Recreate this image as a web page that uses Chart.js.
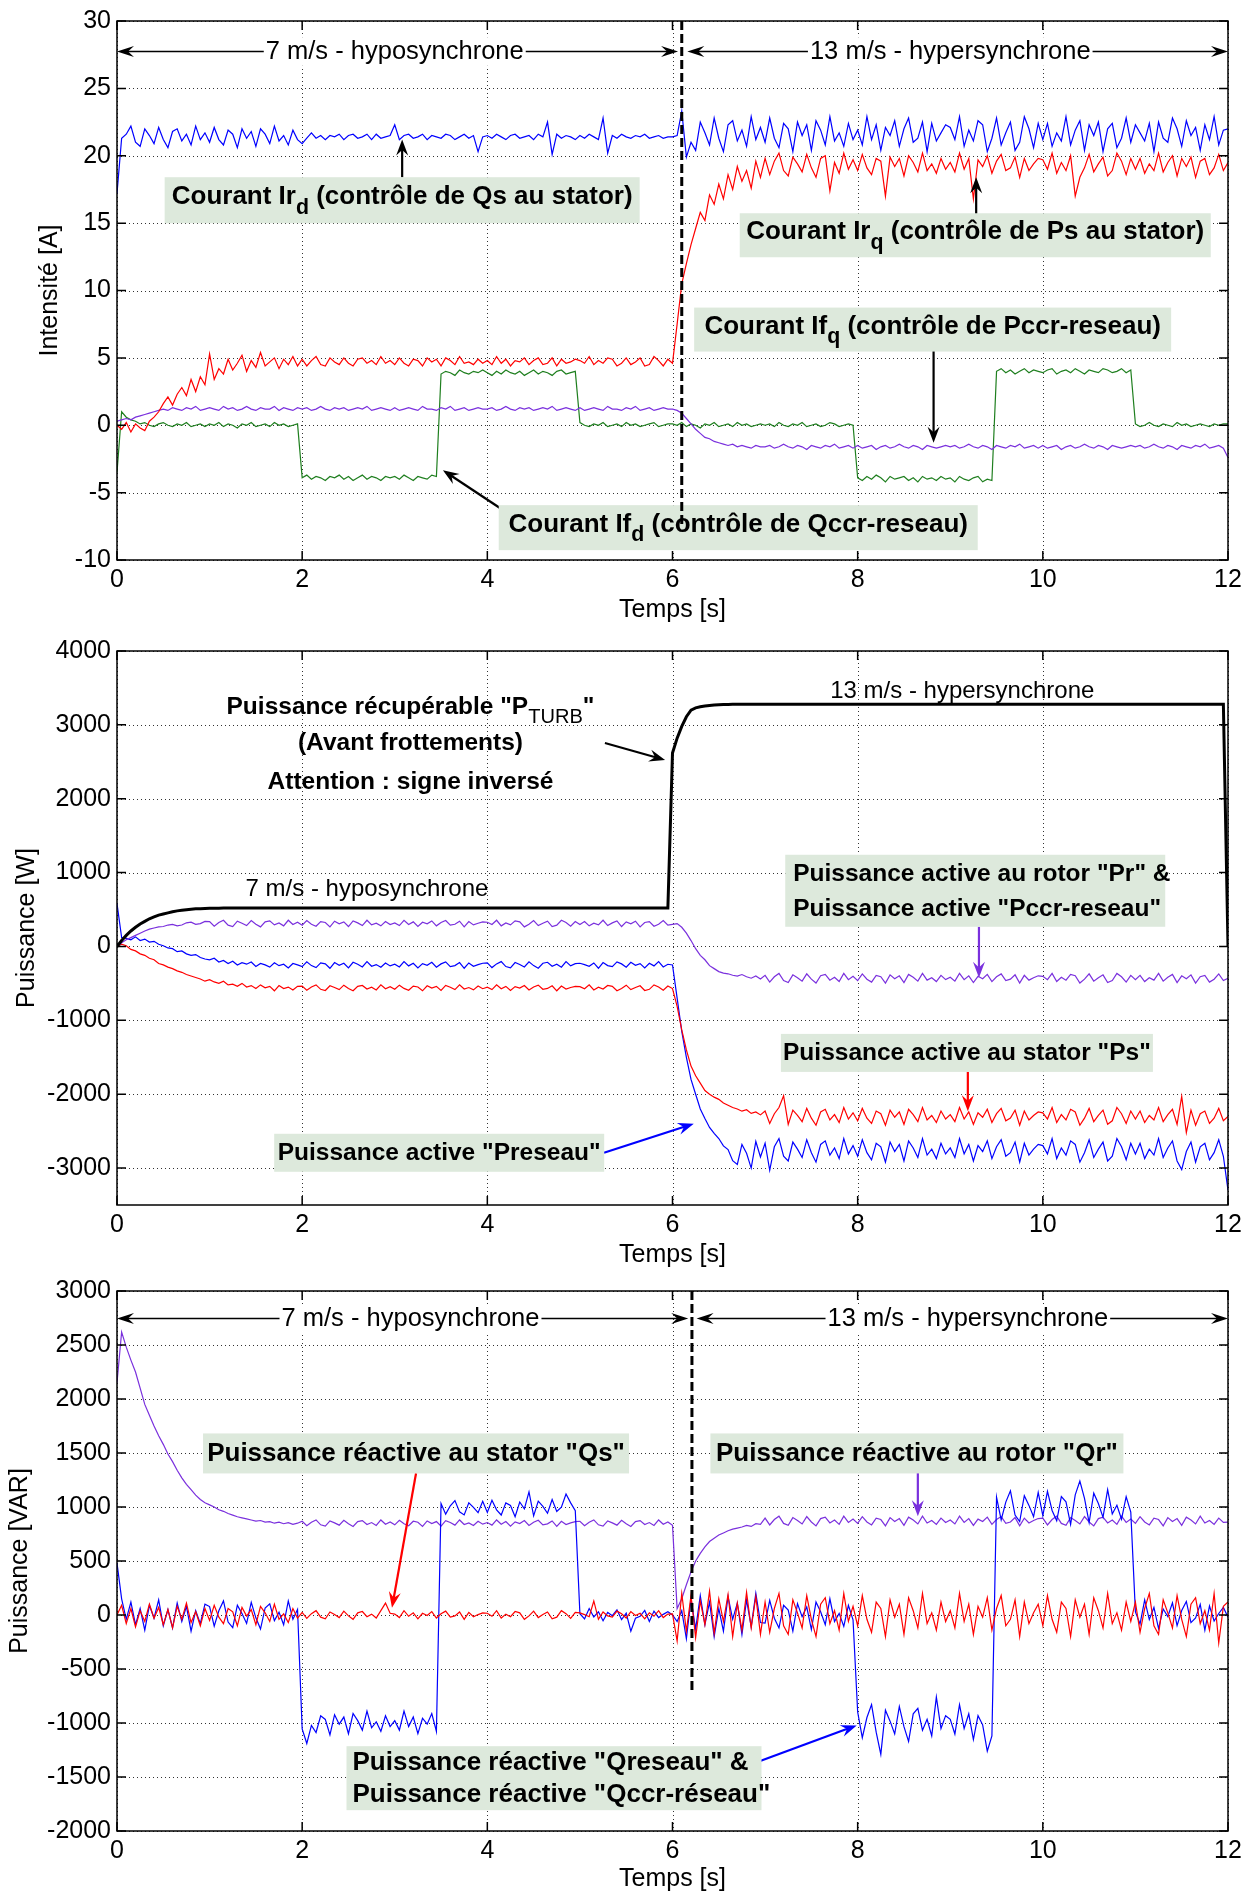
<!DOCTYPE html>
<html>
<head>
<meta charset="utf-8">
<title>MADA - courants et puissances</title>
<script src="https://cdn.jsdelivr.net/npm/chart.js@4.4.1/dist/chart.umd.min.js"></script>
<style>
  html, body { margin: 0; padding: 0; background: #fff; }
  #page { position: relative; width: 1256px; height: 1894px; overflow: hidden; background: #fff; }
  #page canvas { position: absolute; left: 0; }
</style>
</head>
<body>
<div id="page">
  <canvas id="courants" width="1256" height="630" style="top:0px"></canvas>
  <canvas id="puissActive" width="1256" height="640" style="top:630px"></canvas>
  <canvas id="puissReactive" width="1256" height="624" style="top:1270px"></canvas>
</div>
<script>
/* ================= Donnees ================= */

// temps [s], un point tous les 0.05 s (une ligne = une seconde)
const temps = [
  0, 0.05, 0.1, 0.15, 0.2, 0.25, 0.3, 0.35, 0.4, 0.45, 0.5, 0.55, 0.6, 0.65, 0.7, 0.75, 0.8, 0.85, 0.9, 0.95,
  1, 1.05, 1.1, 1.15, 1.2, 1.25, 1.3, 1.35, 1.4, 1.45, 1.5, 1.55, 1.6, 1.65, 1.7, 1.75, 1.8, 1.85, 1.9, 1.95,
  2, 2.05, 2.1, 2.15, 2.2, 2.25, 2.3, 2.35, 2.4, 2.45, 2.5, 2.55, 2.6, 2.65, 2.7, 2.75, 2.8, 2.85, 2.9, 2.95,
  3, 3.05, 3.1, 3.15, 3.2, 3.25, 3.3, 3.35, 3.4, 3.45, 3.5, 3.55, 3.6, 3.65, 3.7, 3.75, 3.8, 3.85, 3.9, 3.95,
  4, 4.05, 4.1, 4.15, 4.2, 4.25, 4.3, 4.35, 4.4, 4.45, 4.5, 4.55, 4.6, 4.65, 4.7, 4.75, 4.8, 4.85, 4.9, 4.95,
  5, 5.05, 5.1, 5.15, 5.2, 5.25, 5.3, 5.35, 5.4, 5.45, 5.5, 5.55, 5.6, 5.65, 5.7, 5.75, 5.8, 5.85, 5.9, 5.95,
  6, 6.05, 6.1, 6.15, 6.2, 6.25, 6.3, 6.35, 6.4, 6.45, 6.5, 6.55, 6.6, 6.65, 6.7, 6.75, 6.8, 6.85, 6.9, 6.95,
  7, 7.05, 7.1, 7.15, 7.2, 7.25, 7.3, 7.35, 7.4, 7.45, 7.5, 7.55, 7.6, 7.65, 7.7, 7.75, 7.8, 7.85, 7.9, 7.95,
  8, 8.05, 8.1, 8.15, 8.2, 8.25, 8.3, 8.35, 8.4, 8.45, 8.5, 8.55, 8.6, 8.65, 8.7, 8.75, 8.8, 8.85, 8.9, 8.95,
  9, 9.05, 9.1, 9.15, 9.2, 9.25, 9.3, 9.35, 9.4, 9.45, 9.5, 9.55, 9.6, 9.65, 9.7, 9.75, 9.8, 9.85, 9.9, 9.95,
  10, 10.05, 10.1, 10.15, 10.2, 10.25, 10.3, 10.35, 10.4, 10.45, 10.5, 10.55, 10.6, 10.65, 10.7, 10.75, 10.8, 10.85, 10.9, 10.95,
  11, 11.05, 11.1, 11.15, 11.2, 11.25, 11.3, 11.35, 11.4, 11.45, 11.5, 11.55, 11.6, 11.65, 11.7, 11.75, 11.8, 11.85, 11.9, 11.95,
  12
];
const ticksTemps = [0, 2, 4, 6, 8, 10, 12];

// --- courants [A]
const ticksCourant = [-10, -5, 0, 5, 10, 15, 20, 25, 30];

const irD = [
  17.2, 21.3, 21.6, 22.2, 21.0, 20.7, 22.0, 21.5, 20.9, 22.1, 21.2, 20.6, 21.8, 22.0, 21.1, 21.6, 20.8, 22.2, 21.2, 21.7,
  21.0, 22.1, 21.2, 20.8, 21.9, 21.6, 20.6, 22.0, 21.3, 21.8, 20.7, 22.0, 21.6, 20.9, 22.2, 21.1, 21.5, 20.8, 21.9, 21.2,
  20.9, 21.3, 21.7, 21.3, 21.5, 21.2, 21.5, 21.4, 21.6, 21.2, 21.5, 21.6, 21.3, 21.4, 21.6, 21.2, 21.6, 21.3, 21.4, 21.5,
  22.3, 21.2, 21.5, 21.6, 21.3, 21.4, 21.6, 21.2, 21.5, 21.4, 21.3, 21.6, 21.5, 21.2, 21.4, 21.6, 21.3, 21.5, 20.3, 21.4,
  21.5, 21.3, 21.6, 21.4, 21.2, 21.5, 21.6, 21.3, 21.4, 21.5, 21.2, 21.6, 21.4, 22.5, 20.1, 21.6, 21.3, 21.5, 21.4, 21.2,
  21.5, 21.3, 21.6, 21.4, 21.2, 22.8, 20.2, 21.5, 21.3, 21.6, 21.4, 21.3, 21.5, 21.4, 21.6, 21.3, 21.4, 21.5, 21.3, 21.4,
  21.4, 21.5, 23.3, 19.9, 21.0, 20.4, 22.5, 21.7, 20.8, 22.8, 21.3, 20.3, 22.3, 22.6, 21.1, 21.9, 20.7, 22.9, 21.2, 22.1,
  21.0, 22.8, 21.3, 20.6, 22.4, 22.0, 20.3, 22.5, 21.5, 22.3, 20.4, 22.6, 21.9, 20.8, 22.9, 21.1, 21.7, 20.7, 22.4, 21.2,
  21.9, 20.8, 22.9, 21.2, 22.3, 20.4, 22.1, 21.5, 22.6, 20.7, 22.0, 22.8, 21.0, 21.3, 22.5, 20.3, 22.4, 21.1, 21.7, 22.3,
  22.1, 21.2, 22.9, 20.7, 21.9, 21.1, 22.6, 22.3, 20.3, 21.3, 22.8, 20.8, 21.7, 22.5, 20.4, 21.0, 22.9, 22.0, 20.6, 22.4,
  21.2, 22.4, 20.7, 21.7, 21.1, 22.9, 20.8, 21.9, 22.6, 20.4, 22.3, 21.5, 22.5, 20.3, 22.0, 22.4, 20.6, 21.3, 22.8, 21.0,
  22.3, 21.7, 21.1, 22.4, 20.3, 22.5, 21.3, 21.0, 22.8, 22.0, 20.7, 22.6, 21.5, 22.1, 20.4, 22.3, 21.2, 22.9, 20.8, 21.9,
  22.0
];
const irQ = [
  0.0, -0.3, 0.2, -0.5, 0.1, -0.2, -0.4, 0.3, 0.6, 1.0, 1.6, 2.1, 1.5, 2.3, 2.8, 2.2, 3.4, 2.5, 3.6, 3.0,
  5.3, 3.4, 4.2, 3.8, 4.9, 4.1, 4.6, 5.2, 4.0, 4.8, 4.3, 5.4, 4.4, 4.7, 5.0, 4.2, 4.9, 4.5, 5.1, 4.4,
  4.9, 4.4, 4.8, 5.1, 4.5, 4.4, 5.0, 4.7, 4.5, 5.0, 4.6, 4.4, 4.9, 5.0, 4.6, 4.8, 4.5, 5.1, 4.6, 4.8,
  4.5, 5.0, 4.6, 4.4, 4.9, 4.8, 4.4, 5.0, 4.7, 4.9, 4.4, 5.0, 4.8, 4.5, 5.1, 4.6, 4.7, 4.5, 4.9, 4.6,
  4.8, 4.5, 5.1, 4.6, 4.9, 4.4, 4.8, 4.7, 5.0, 4.5, 4.8, 5.0, 4.5, 4.6, 5.0, 4.4, 4.9, 4.6, 4.7, 4.9,
  4.8, 4.6, 5.1, 4.5, 4.8, 4.6, 5.0, 4.9, 4.4, 4.6, 5.0, 4.5, 4.7, 5.0, 4.4, 4.5, 5.1, 4.8, 4.4, 4.9,
  4.6, 7.5, 10.5, 12.0, 13.4, 14.6, 15.8, 15.2, 17.1, 16.4, 17.9, 16.8, 18.6, 17.5, 19.2, 18.1, 18.9, 17.6, 19.6, 18.4,
  19.8, 18.6, 19.6, 20.2, 18.9, 18.5, 19.9, 19.4, 18.8, 20.1, 19.1, 18.4, 19.8, 20.0, 17.4, 19.5, 18.7, 20.2, 19.0, 19.7,
  18.9, 20.1, 19.1, 18.6, 19.8, 19.6, 17.0, 19.9, 19.2, 19.8, 18.5, 20.0, 19.5, 18.8, 20.2, 18.9, 19.4, 18.7, 19.8, 19.0,
  19.5, 18.8, 20.2, 19.0, 19.8, 16.8, 19.7, 19.2, 20.0, 18.7, 19.6, 20.1, 18.9, 19.1, 19.9, 18.4, 19.8, 18.9, 19.4, 19.8,
  19.7, 19.0, 20.2, 18.7, 19.5, 18.9, 20.0, 17.0, 18.4, 19.1, 20.1, 18.8, 19.4, 19.9, 18.5, 18.9, 20.2, 19.6, 18.6, 19.8,
  19.0, 19.8, 18.7, 19.4, 18.9, 20.2, 18.8, 19.5, 20.0, 18.5, 19.8, 19.2, 19.9, 18.4, 19.6, 19.8, 18.6, 19.1, 20.1, 18.9,
  19.5
];
const ifQ = [
  0.3, 0.4, 0.5, 0.4, 0.6, 0.7, 0.8, 0.9, 1.0, 1.1, 1.2, 1.1, 1.3, 1.2, 1.1, 1.3, 1.2, 1.4, 1.1, 1.2,
  1.3, 1.2, 1.1, 1.4, 1.2, 1.3, 1.1, 1.2, 1.4, 1.2, 1.1, 1.3, 1.2, 1.2, 1.4, 1.1, 1.3, 1.2, 1.1, 1.3,
  1.2, 1.3, 1.1, 1.2, 1.4, 1.2, 1.1, 1.3, 1.2, 1.3, 1.1, 1.2, 1.3, 1.2, 1.4, 1.1, 1.2, 1.3, 1.2, 1.1,
  1.3, 1.1, 1.2, 1.3, 1.2, 1.1, 1.4, 1.2, 1.2, 1.1, 1.3, 1.2, 1.4, 1.1, 1.2, 1.3, 1.1, 1.2, 1.3, 1.2,
  1.2, 1.3, 1.1, 1.2, 1.4, 1.2, 1.1, 1.3, 1.2, 1.3, 1.1, 1.2, 1.3, 1.2, 1.4, 1.1, 1.2, 1.3, 1.2, 1.1,
  1.3, 1.1, 1.2, 1.3, 1.2, 1.1, 1.4, 1.2, 1.2, 1.1, 1.3, 1.2, 1.4, 1.1, 1.2, 1.3, 1.1, 1.2, 1.3, 1.2,
  1.2, 1.1, 0.9, 0.5, 0.1, -0.3, -0.6, -0.9, -1.0, -1.2, -1.3, -1.4, -1.5, -1.4, -1.6, -1.5, -1.6, -1.7, -1.5, -1.6,
  -1.6, -1.5, -1.7, -1.6, -1.4, -1.6, -1.7, -1.5, -1.6, -1.8, -1.5, -1.6, -1.7, -1.5, -1.6, -1.4, -1.7, -1.6, -1.5, -1.7,
  -1.5, -1.7, -1.6, -1.5, -1.8, -1.6, -1.5, -1.7, -1.6, -1.4, -1.6, -1.7, -1.5, -1.6, -1.8, -1.5, -1.6, -1.7, -1.6, -1.5,
  -1.6, -1.5, -1.7, -1.6, -1.4, -1.6, -1.7, -1.5, -1.6, -1.8, -1.5, -1.6, -1.7, -1.5, -1.6, -1.4, -1.7, -1.6, -1.5, -1.7,
  -1.5, -1.7, -1.6, -1.5, -1.8, -1.6, -1.5, -1.7, -1.6, -1.4, -1.6, -1.7, -1.5, -1.6, -1.8, -1.5, -1.6, -1.7, -1.6, -1.5,
  -1.6, -1.5, -1.7, -1.6, -1.4, -1.6, -1.7, -1.5, -1.6, -1.8, -1.5, -1.6, -1.7, -1.5, -1.6, -1.4, -1.7, -1.6, -1.5, -1.7,
  -2.4
];
const ifD = [
  -3.5, 1.0, 0.6, 0.4, 0.3, 0.1, 0.2, 0.0, -0.1, 0.1, 0.2, 0.0, -0.1, 0.1, 0.0, 0.2, -0.1, 0.0, 0.1, -0.1,
  0.1, 0.0, 0.2, -0.1, 0.1, 0.0, -0.2, 0.1, 0.0, 0.2, -0.1, 0.0, 0.1, -0.1, 0.2, 0.0, 0.1, -0.1, 0.0, 0.1,
  -3.9, -3.7, -4.0, -3.8, -3.9, -4.1, -3.8, -3.9, -3.7, -4.0, -3.8, -4.1, -3.9, -3.7, -4.0, -3.8, -3.9, -4.1, -3.8, -3.9,
  -3.8, -4.0, -3.7, -3.9, -4.1, -3.8, -3.9, -4.0, -3.7, -3.8, 3.8, 4.0, 3.9, 3.7, 4.1, 3.9, 3.8, 4.0, 3.9, 4.1,
  3.9, 3.7, 4.0, 3.8, 4.1, 3.9, 3.8, 4.0, 3.7, 3.9, 4.1, 3.8, 4.0, 3.9, 3.7, 4.0, 4.1, 3.8, 3.9, 4.0,
  0.2, 0.0, -0.1, 0.1, 0.0, 0.2, -0.1, 0.0, 0.1, -0.1, 0.2, 0.0, 0.1, -0.1, 0.0, 0.1, 0.2, -0.1, 0.0, 0.1,
  0.1, 0.0, 0.2, -0.1, 0.1, 0.0, -0.2, 0.1, 0.0, 0.2, -0.1, 0.0, 0.1, -0.1, 0.2, 0.0, 0.1, -0.1, 0.0, 0.1,
  0.0, 0.1, -0.1, 0.2, 0.0, -0.1, 0.1, 0.0, 0.2, -0.1, 0.0, 0.1, -0.1, 0.0, 0.2, 0.1, -0.1, 0.0, 0.1, 0.0,
  -3.9, -4.1, -3.8, -4.0, -3.7, -3.9, -4.2, -3.8, -4.0, -3.9, -3.8, -4.1, -3.9, -4.2, -3.8, -4.0, -3.9, -4.1, -3.8, -4.0,
  -3.9, -4.2, -3.8, -4.0, -4.1, -3.9, -3.8, -4.2, -4.0, -4.1, 4.0, 4.2, 3.9, 4.1, 3.8, 4.0, 4.2, 3.9, 4.1, 4.0,
  3.9, 4.1, 4.2, 3.8, 4.0, 4.1, 3.9, 4.2, 4.0, 3.8, 4.1, 4.0, 3.9, 4.2, 4.1, 3.9, 4.0, 4.2, 3.9, 4.1,
  0.1, -0.1, 0.0, 0.2, 0.0, -0.1, 0.1, 0.0, -0.1, 0.2, 0.0, 0.1, -0.1, 0.0, 0.1, 0.0, -0.1, 0.1, 0.0, 0.1,
  0.1
];

// --- puissances actives [W]
const ticksPuissW = [-3000, -2000, -1000, 0, 1000, 2000, 3000, 4000];

const pTurb = [
  0, 80, 150, 210, 260, 305, 340, 375, 400, 425, 440, 455, 470, 482, 490, 498, 505, 510, 512, 515,
  517, 518, 519, 520, 520, 520, 520, 520, 520, 520, 520, 520, 520, 520, 520, 520, 520, 520, 520, 520,
  520, 520, 520, 520, 520, 520, 520, 520, 520, 520, 520, 520, 520, 520, 520, 520, 520, 520, 520, 520,
  520, 520, 520, 520, 520, 520, 520, 520, 520, 520, 520, 520, 520, 520, 520, 520, 520, 520, 520, 520,
  520, 520, 520, 520, 520, 520, 520, 520, 520, 520, 520, 520, 520, 520, 520, 520, 520, 520, 520, 520,
  520, 520, 520, 520, 520, 520, 520, 520, 520, 520, 520, 520, 520, 520, 520, 520, 520, 520, 520, 520,
  2620, 2820, 2980, 3110, 3200, 3230, 3245, 3255, 3262, 3268, 3272, 3275, 3277, 3278, 3279, 3280, 3280, 3280, 3280, 3280,
  3280, 3280, 3280, 3280, 3280, 3280, 3280, 3280, 3280, 3280, 3280, 3280, 3280, 3280, 3280, 3280, 3280, 3280, 3280, 3280,
  3280, 3280, 3280, 3280, 3280, 3280, 3280, 3280, 3280, 3280, 3280, 3280, 3280, 3280, 3280, 3280, 3280, 3280, 3280, 3280,
  3280, 3280, 3280, 3280, 3280, 3280, 3280, 3280, 3280, 3280, 3280, 3280, 3280, 3280, 3280, 3280, 3280, 3280, 3280, 3280,
  3280, 3280, 3280, 3280, 3280, 3280, 3280, 3280, 3280, 3280, 3280, 3280, 3280, 3280, 3280, 3280, 3280, 3280, 3280, 3280,
  3280, 3280, 3280, 3280, 3280, 3280, 3280, 3280, 3280, 3280, 3280, 3280, 3280, 3280, 3280, 3280, 3280, 3280, 3280, 3280,
  0
];
const pRotor = [
  0, 50, 90, 120, 150, 180, 210, 235, 250, 265, 270, 290, 300, 280, 290, 320, 330, 300, 310, 340,
  337, 274, 324, 355, 288, 270, 342, 315, 283, 351, 301, 265, 333, 346, 292, 319, 279, 355, 297, 328,
  288, 351, 301, 274, 337, 324, 265, 342, 306, 333, 270, 346, 319, 283, 355, 292, 315, 279, 337, 297,
  319, 283, 355, 297, 333, 270, 328, 306, 346, 279, 324, 351, 288, 301, 342, 265, 337, 292, 315, 333,
  328, 297, 355, 279, 319, 292, 346, 333, 265, 301, 351, 283, 315, 342, 270, 288, 355, 324, 274, 337,
  297, 337, 279, 315, 292, 355, 283, 319, 346, 270, 333, 306, 342, 265, 324, 337, 274, 301, 351, 288,
  300, 310, 260, 180, 80, -30, -120, -180, -260, -300, -340, -360, -370, -390, -400, -380, -410, -430, -400, -440,
  -391, -482, -410, -365, -462, -488, -384, -423, -469, -371, -443, -495, -397, -378, -456, -417, -475, -365, -449, -404,
  -462, -371, -443, -482, -391, -410, -495, -384, -436, -397, -488, -378, -417, -469, -365, -456, -423, -475, -391, -449,
  -417, -469, -365, -449, -397, -488, -404, -436, -378, -475, -410, -371, -462, -443, -384, -495, -391, -456, -423, -397,
  -404, -449, -365, -475, -417, -456, -378, -397, -495, -443, -371, -469, -423, -384, -488, -462, -365, -410, -482, -391,
  -449, -391, -475, -423, -456, -365, -469, -417, -378, -488, -397, -436, -384, -495, -410, -391, -482, -443, -371, -462,
  -430
];
const pStator = [
  0, 30, 10, -40, -60, -100, -120, -160, -180, -230, -250, -280, -300, -330, -350, -380, -400, -420, -440, -470,
  -450, -480, -500, -470, -520, -510, -540, -500, -550, -530, -570, -520, -560, -540, -600, -530, -570, -550, -590, -540,
  -536, -592, -548, -520, -580, -596, -532, -556, -584, -524, -568, -600, -540, -528, -576, -552, -588, -520, -572, -544,
  -580, -524, -568, -592, -536, -548, -600, -532, -564, -540, -596, -528, -552, -584, -520, -576, -556, -588, -536, -572,
  -552, -584, -520, -572, -540, -596, -544, -564, -528, -588, -548, -524, -580, -568, -532, -600, -536, -576, -556, -540,
  -544, -572, -520, -588, -552, -576, -528, -540, -600, -568, -524, -584, -556, -532, -596, -580, -520, -548, -592, -536,
  -570, -810, -1130, -1400, -1620, -1750, -1850, -1950, -2000, -2040, -2070, -2120, -2150, -2180, -2200, -2230, -2210, -2260, -2240, -2280,
  -2228, -2396, -2264, -2180, -2020, -2408, -2216, -2288, -2372, -2192, -2324, -2420, -2240, -2204, -2348, -2276, -2384, -2180, -2336, -2252,
  -2360, -2192, -2324, -2396, -2228, -2264, -2420, -2216, -2312, -2240, -2408, -2204, -2276, -2372, -2180, -2348, -2288, -2384, -2228, -2336,
  -2276, -2372, -2180, -2336, -2240, -2408, -2252, -2312, -2204, -2384, -2264, -2192, -2360, -2324, -2216, -2420, -2228, -2348, -2288, -2240,
  -2252, -2336, -2180, -2384, -2276, -2348, -2204, -2240, -2420, -2324, -2192, -2372, -2288, -2216, -2408, -2360, -2180, -2264, -2396, -2228,
  -2336, -2228, -2384, -2288, -2348, -2180, -2372, -2276, -2204, -2408, -2030, -2520, -2216, -2420, -2264, -2228, -2396, -2324, -2192, -2360,
  -2300
];
const pReseau = [
  580, 120, 110, 90, 130, 80, 100, 60, 70, 30, 10, -20, -30, -70, -60, -100, -120, -110, -150, -170,
  -180, -160, -210, -190, -230, -200, -250, -220, -240, -210, -270, -230, -250, -280, -220, -260, -240, -290, -230, -250,
  -272, -209, -259, -286, -223, -236, -295, -218, -254, -227, -290, -214, -241, -277, -205, -268, -245, -281, -223, -263,
  -241, -277, -205, -263, -227, -290, -232, -254, -214, -281, -236, -209, -272, -259, -218, -295, -223, -268, -245, -227,
  -223, -286, -236, -205, -272, -290, -218, -245, -277, -209, -259, -295, -227, -214, -268, -241, -281, -205, -263, -232,
  -227, -245, -268, -223, -295, -218, -259, -272, -209, -236, -281, -214, -254, -232, -290, -227, -263, -205, -277, -241,
  -250, -700, -1150, -1500, -1800, -2000, -2200, -2330, -2450, -2530, -2600, -2700, -2750, -2900, -2950, -2680, -2800, -3000, -2640, -2850,
  -2664, -3030, -2712, -2600, -2840, -2904, -2648, -2744, -2856, -2616, -2792, -2920, -2680, -2632, -2824, -2728, -2872, -2600, -2808, -2696,
  -2840, -2616, -2792, -2888, -2664, -2712, -2920, -2648, -2776, -2680, -2904, -2632, -2728, -2856, -2600, -2824, -2744, -2872, -2664, -2808,
  -2728, -2856, -2600, -2808, -2680, -2904, -2696, -2776, -2632, -2872, -2712, -2616, -2840, -2792, -2648, -2920, -2664, -2824, -2744, -2680,
  -2696, -2808, -2600, -2872, -2728, -2824, -2632, -2680, -2920, -2792, -2616, -2856, -2744, -2648, -2904, -2840, -2600, -2712, -2888, -2664,
  -2808, -2664, -2872, -2744, -2824, -2600, -2856, -2728, -2632, -2904, -3020, -2776, -2648, -2920, -2712, -2664, -2888, -2792, -2616, -2840,
  -3300
];

// --- puissances reactives [VAR]
const ticksPuissVar = [-2000, -1500, -1000, -500, 0, 500, 1000, 1500, 2000, 2500, 3000];

const qRotor = [
  2150, 2620, 2480, 2360, 2250, 2100, 1950, 1850, 1750, 1660, 1580, 1490, 1420, 1340, 1270, 1210, 1160, 1110, 1070, 1040,
  1020, 1000, 975, 960, 940, 925, 910, 900, 890, 880, 870, 875, 860, 865, 850, 860, 845, 855, 840, 850,
  868, 826, 859, 880, 835, 823, 871, 853, 832, 877, 844, 820, 865, 874, 838, 856, 829, 880, 841, 862,
  835, 877, 844, 826, 868, 859, 820, 871, 847, 865, 823, 874, 856, 832, 880, 838, 853, 829, 868, 841,
  856, 832, 880, 841, 865, 823, 862, 847, 874, 829, 859, 877, 835, 844, 871, 820, 868, 838, 853, 865,
  868, 826, 859, 880, 835, 823, 871, 853, 832, 877, 844, 820, 865, 874, 838, 856, 829, 880, 841, 862,
  830, 60, 150, 280, 400, 500, 570, 630, 680, 710, 740, 760, 780, 795, 805, 815, 830, 820, 845, 840,
  897, 834, 884, 915, 848, 830, 902, 875, 843, 911, 861, 825, 893, 906, 852, 879, 839, 915, 857, 888,
  848, 911, 861, 834, 897, 884, 825, 902, 866, 893, 830, 906, 879, 843, 915, 852, 875, 839, 897, 857,
  879, 843, 915, 857, 893, 830, 888, 866, 906, 839, 884, 911, 848, 861, 902, 825, 897, 852, 875, 893,
  897, 834, 884, 915, 848, 830, 902, 875, 843, 911, 861, 825, 893, 906, 852, 879, 839, 915, 857, 888,
  848, 911, 861, 834, 897, 884, 825, 902, 866, 893, 830, 906, 879, 843, 915, 852, 875, 839, 897, 857,
  860
];
const qReseau = [
  480, 150, -40, 120, -90, 60, -140, 90, -30, 140, -100, 50, -120, 110, -60, 80, -150, 40, -80, 100,
  78, -104, 39, 130, -65, -117, 91, 13, -78, 117, -26, -130, 65, 104, -52, 26, -91, 130, -39, 52,
  -1055, -1190, -1022, -1088, -934, -967, -1110, -923, -1011, -945, -1099, -912, -978, -1066, -890, -1044, -989, -1077, -934, -1033,
  -978, -1066, -890, -1033, -945, -1099, -956, -1011, -912, -1077, 1032, 934, 1011, 1060, 955, 927, 1039, 997, 948, 1053,
  950, 1062, 974, 926, 1038, 1014, 910, 1046, 982, 1140, 918, 1054, 1006, 942, 1070, 958, 998, 1120, 1038, 966,
  12, -36, 60, -18, 30, -54, 24, -6, 48, -42, 18, -150, -30, -12, 42, -60, 36, -24, 6, 30,
  0, -60, 40, -220, 150, -130, 180, -90, 120, -200, 60, -150, 170, -40, 110, -180, 140, -110, 200, -70,
  -75, 135, -30, -120, 90, 45, -150, 105, -15, 75, -135, 120, 30, -90, 150, -60, 15, -105, 90, -45,
  -898, -1136, -949, -830, -1085, -1290, -881, -983, -1102, -847, -1034, -1170, -915, -864, -1068, -966, -1119, -760, -1051, -932,
  -966, -1102, -830, -1051, -915, -1153, -932, -1017, -1260, -1119, 1090, 880, 1045, 1150, 925, 865, 1105, 1015, 910, 1135,
  920, 1144, 968, 872, 1096, 1048, 840, 1112, 1240, 1080, 856, 1128, 1032, 904, 1160, 936, 1016, 888, 1096, 952,
  28, -84, 140, -42, 70, -126, 56, -14, 112, -98, 42, 126, -70, -28, 98, -140, 84, -56, 14, 70,
  -20
];
const qStator = [
  0, 90, -80, 60, -110, 40, -60, 100, -30, 70, -90, 50, -120, 80, -40, 110, -70, 30, -100, 60,
  -50, 90, -20, -80, 60, 30, -100, 70, -10, 50, -90, 80, 20, -60, 100, -40, 10, -70, 60, -30,
  24, -32, 12, 40, -20, -36, 28, 4, -24, 36, -8, -40, 20, 32, -16, 8, -28, 40, 110, 16,
  8, -24, 40, -12, 20, -36, 16, -4, 32, -28, 12, 36, -20, -8, 28, -40, 24, -16, 4, 20,
  16, -12, 40, -28, 8, -16, 32, 20, -40, -8, 36, -24, 4, 28, -36, -20, 40, 12, -32, 24,
  20, 4, -16, 130, -40, 28, -8, -20, 36, 12, -28, 32, -4, 16, -36, 20, -12, 40, -24, 8,
  10, -240, 200, -150, 180, -210, 130, -90, 220, -170, 150, -60, 190, -200, 110, -140, 210, -120, 170, -180,
  120, -160, 60, 200, -100, -180, 140, 20, -120, 180, -40, -200, 100, 160, -80, 40, -140, 200, -60, 80,
  -100, 180, -40, -160, 120, 60, -200, 140, -20, 100, -180, 160, 40, -120, 200, -80, 20, -140, 120, -60,
  40, -120, 200, -60, 100, -180, 80, -20, 160, -140, 60, 180, -100, -40, 140, -200, 120, -80, 20, 100,
  -100, 180, -40, -160, 120, 60, -200, 140, -20, 100, -180, 160, 40, -120, 200, -80, 20, -140, 120, -60,
  120, -160, 60, 200, -100, -180, 140, 20, -120, 180, -40, -200, 100, 160, -80, 40, -140, 200, -260, 80,
  120
];

/* ================= Styles ================= */

const POLICE = '"Liberation Sans", Arial, Helvetica, sans-serif';
const BLEU = "#0000ff";
const ROUGE = "#ff0000";
const VERT = "#1f7f1f";
const VIOLET = "#7a30dd";
const NOIR = "#000000";
const FOND_CADRE = "#dde9dc";

Chart.defaults.font.family = POLICE;
Chart.defaults.color = "#000";

/* ================= Annotations ================= */

const notesCourants = [
  { kind: "plage", t0: 0, t1: 6.06, v: 27.8, tc: 3.0, texte: "7 m/s - hyposynchrone" },
  { kind: "plage", t0: 6.16, t1: 12, v: 27.8, tc: 9.0, texte: "13 m/s - hypersynchrone" },
  { kind: "fleche", de: [3.08, 18.4], a: [3.08, 21.2], couleur: NOIR },
  { kind: "cadre", t: 3.08, v: 16.7, w: 475, h: 46, dy: [-3],
    lignes: [["Courant Ir", { sub: "d" }, " (contrôle de Qs au stator)"]] },
  { kind: "fleche", de: [9.28, 15.6], a: [9.28, 18.4], couleur: NOIR },
  { kind: "cadre", t: 9.27, v: 14.1, w: 471, h: 44, dy: [-3],
    lignes: [["Courant Ir", { sub: "q" }, " (contrôle de Ps au stator)"]] },
  { kind: "fleche", de: [8.82, 5.6], a: [8.82, -1.3], couleur: NOIR },
  { kind: "cadre", t: 8.81, v: 7.1, w: 477, h: 44, dy: [-3],
    lignes: [["Courant If", { sub: "q" }, " (contrôle de Pccr-reseau)"]] },
  { kind: "fleche", de: [4.14, -6.16], a: [3.52, -3.34], couleur: NOIR },
  { kind: "cadre", t: 6.71, v: -7.6, w: 479, h: 45, dy: [-3],
    lignes: [["Courant If", { sub: "d" }, " (contrôle de Qccr-reseau)"]] },
  { kind: "tirets", t: 6.1, v0: 30, v1: -7.4 },
];

const notesActives = [
  { kind: "texte", t: 3.17, v: 3242, gras: true,
    ligne: ['Puissance récupérable "P', { sub: "TURB", gras: false }, '"'] },
  { kind: "texte", t: 3.17, v: 2755, gras: true, ligne: ["(Avant frottements)"] },
  { kind: "texte", t: 3.17, v: 2228, gras: true, ligne: ["Attention : signe inversé"] },
  { kind: "fleche", de: [5.27, 2755], a: [5.92, 2525], couleur: NOIR },
  { kind: "texte", t: 2.7, v: 767, gras: false, ligne: ["7 m/s - hyposynchrone"] },
  { kind: "texte", t: 9.13, v: 3449, gras: false, ligne: ["13 m/s - hypersynchrone"] },
  { kind: "fleche", de: [9.31, 267], a: [9.31, -424], couleur: VIOLET },
  { kind: "cadre", t: 9.27, v: 754, w: 380, h: 72, gauche: 8, dy: [-17, 18],
    lignes: [['Puissance active au rotor "Pr" &'], ['Puissance active "Pccr-reseau"']] },
  { kind: "fleche", de: [9.19, -1697], a: [9.19, -2230], couleur: ROUGE },
  { kind: "cadre", t: 9.18, v: -1441, w: 372, h: 38, lignes: [['Puissance active au stator "Ps"']] },
  { kind: "fleche", de: [5.26, -2793], a: [6.23, -2400], couleur: BLEU },
  { kind: "cadre", t: 3.48, v: -2793, w: 330, h: 38, lignes: [['Puissance active "Preseau"']] },
];

const notesReactives = [
  { kind: "tirets", t: 6.21, v0: 3000, v1: -720 },
  { kind: "plage", t0: 0, t1: 6.17, v: 2750, tc: 3.17, texte: "7 m/s - hyposynchrone" },
  { kind: "plage", t0: 6.26, t1: 12, v: 2750, tc: 9.19, texte: "13 m/s - hypersynchrone" },
  { kind: "fleche", de: [3.23, 1312], a: [2.97, 66], couleur: ROUGE },
  { kind: "cadre", t: 3.23, v: 1496, w: 426, h: 40, lignes: [['Puissance réactive au stator "Qs"']] },
  { kind: "fleche", de: [8.65, 1330], a: [8.65, 915], couleur: VIOLET },
  { kind: "cadre", t: 8.64, v: 1496, w: 413, h: 40, lignes: [['Puissance réactive au rotor "Qr"']] },
  { kind: "fleche", de: [6.91, -1363], a: [7.99, -1022], couleur: BLEU },
  { kind: "cadre", t: 4.72, v: -1511, w: 415, h: 64, gauche: 6, dy: [-15, 17],
    lignes: [['Puissance réactive "Qreseau" &'], ['Puissance réactive "Qccr-réseau"']] },
];

/* ================= Dessin ================= */

function police(taille, gras) {
  return (gras ? "bold " : "") + taille + "px " + POLICE;
}

function pointe(ctx, x, y, ang, L, H, couleur) {
  ctx.save();
  ctx.translate(x, y);
  ctx.rotate(ang);
  ctx.fillStyle = couleur;
  ctx.beginPath();
  ctx.moveTo(0, 0);
  ctx.lineTo(-L, -H);
  ctx.lineTo(-L * 0.65, 0);
  ctx.lineTo(-L, H);
  ctx.closePath();
  ctx.fill();
  ctx.restore();
}

// texte avec indices ; segments = chaines ou { sub }
function largeurRiche(ctx, segs, taille, gras) {
  let w = 0;
  for (const s of segs) {
    if (typeof s === "string") {
      ctx.font = police(taille, gras);
      w += ctx.measureText(s).width;
    } else {
      ctx.font = police(taille * 0.82, s.gras === undefined ? gras : s.gras);
      w += ctx.measureText(s.sub).width;
    }
  }
  return w;
}

function texteRiche(ctx, segs, x, y, taille, gras, centre) {
  let cx = centre ? x - largeurRiche(ctx, segs, taille, gras) / 2 : x;
  ctx.textAlign = "left";
  ctx.textBaseline = "middle";
  ctx.fillStyle = "#000";
  for (const s of segs) {
    if (typeof s === "string") {
      ctx.font = police(taille, gras);
      ctx.fillText(s, cx, y);
      cx += ctx.measureText(s).width;
    } else {
      ctx.font = police(taille * 0.82, s.gras === undefined ? gras : s.gras);
      ctx.fillText(s.sub, cx, y + taille * 0.42);
      cx += ctx.measureText(s.sub).width;
    }
  }
}

function dessineNotes(chart, notes, taille) {
  const ctx = chart.ctx;
  const X = (t) => chart.scales.x.getPixelForValue(t);
  const Y = (v) => chart.scales.y.getPixelForValue(v);
  ctx.save();
  for (const n of notes) {
    if (n.kind === "tirets") {
      ctx.save();
      ctx.strokeStyle = NOIR;
      ctx.lineWidth = 3;
      ctx.setLineDash([9, 4]);
      ctx.beginPath();
      ctx.moveTo(X(n.t), Y(n.v0));
      ctx.lineTo(X(n.t), Y(n.v1));
      ctx.stroke();
      ctx.restore();
    } else if (n.kind === "plage") {
      const y = Math.round(Y(n.v)) + 0.5;
      const x0 = X(n.t0), x1 = X(n.t1);
      ctx.setLineDash([]);
      ctx.strokeStyle = NOIR;
      ctx.lineWidth = 1.3;
      ctx.beginPath();
      ctx.moveTo(x0 + 8, y);
      ctx.lineTo(x1 - 8, y);
      ctx.stroke();
      pointe(ctx, x0, y, Math.PI, 17, 5.5, NOIR);
      pointe(ctx, x1, y, 0, 17, 5.5, NOIR);
      ctx.font = police(taille - 0.5, false);
      const w = ctx.measureText(n.texte).width;
      ctx.fillStyle = "#fff";
      ctx.fillRect(X(n.tc) - w / 2 - 2, y - taille * 0.55, w + 4, taille * 1.1);
      ctx.fillStyle = "#000";
      ctx.textAlign = "center";
      ctx.textBaseline = "middle";
      ctx.fillText(n.texte, X(n.tc), y);
    } else if (n.kind === "texte") {
      texteRiche(ctx, n.ligne, X(n.t), Y(n.v), n.gras ? taille : taille - 0.5, n.gras, true);
    } else if (n.kind === "fleche") {
      const x0 = X(n.de[0]), y0 = Y(n.de[1]);
      const x1 = X(n.a[0]), y1 = Y(n.a[1]);
      const ang = Math.atan2(y1 - y0, x1 - x0);
      ctx.setLineDash([]);
      ctx.strokeStyle = n.couleur;
      ctx.lineWidth = 2.2;
      ctx.beginPath();
      ctx.moveTo(x0, y0);
      ctx.lineTo(x1 - Math.cos(ang) * 10, y1 - Math.sin(ang) * 10);
      ctx.stroke();
      pointe(ctx, x1, y1, ang, 16, 6, n.couleur);
    } else if (n.kind === "cadre") {
      const cx = X(n.t), cy = Y(n.v);
      const gauche = cx - n.w / 2;
      ctx.fillStyle = FOND_CADRE;
      ctx.fillRect(gauche, cy - n.h / 2, n.w, n.h);
      n.lignes.forEach((segs, i) => {
        const dy = n.dy ? n.dy[i] : 0;
        if (n.gauche !== undefined) texteRiche(ctx, segs, gauche + n.gauche, cy + dy, taille, true, false);
        else texteRiche(ctx, segs, cx, cy + dy, taille, true, true);
      });
    }
  }
  ctx.restore();
}

// grille pointillee, cadre et graduations interieures facon MATLAB
const cadre = {
  id: "cadre",
  beforeDatasetsDraw(chart) {
    const { ctx, chartArea: a, scales: { x, y } } = chart;
    ctx.save();
    ctx.strokeStyle = "#333";
    ctx.lineWidth = 1;
    ctx.setLineDash([1, 3]);
    ctx.beginPath();
    for (const tk of x.ticks) {
      const p = Math.round(x.getPixelForValue(tk.value)) + 0.5;
      ctx.moveTo(p, a.top);
      ctx.lineTo(p, a.bottom);
    }
    for (const tk of y.ticks) {
      const p = Math.round(y.getPixelForValue(tk.value)) + 0.5;
      ctx.moveTo(a.left, p);
      ctx.lineTo(a.right, p);
    }
    ctx.stroke();
    ctx.restore();
  },
  afterDatasetsDraw(chart) {
    const { ctx, chartArea: a, scales: { x, y } } = chart;
    const L = 9;
    ctx.save();
    ctx.setLineDash([]);
    ctx.strokeStyle = "#000";
    ctx.lineWidth = 1.5;
    ctx.beginPath();
    for (const tk of x.ticks) {
      const p = x.getPixelForValue(tk.value);
      ctx.moveTo(p, a.bottom);
      ctx.lineTo(p, a.bottom - L);
      ctx.moveTo(p, a.top);
      ctx.lineTo(p, a.top + L);
    }
    for (const tk of y.ticks) {
      const p = y.getPixelForValue(tk.value);
      ctx.moveTo(a.left, p);
      ctx.lineTo(a.left + L, p);
      ctx.moveTo(a.right, p);
      ctx.lineTo(a.right - L, p);
    }
    ctx.stroke();
    ctx.strokeRect(a.left, a.top, a.right - a.left, a.bottom - a.top);
    ctx.restore();
  },
};

function graphe(id, cfg) {
  return new Chart(document.getElementById(id), {
    type: "line",
    data: {
      labels: temps,
      datasets: cfg.series.map((s) => ({
        data: s.data,
        borderColor: s.couleur,
        borderWidth: s.epaisseur || 1.2,
        pointRadius: 0,
        tension: 0,
        fill: false,
      })),
    },
    options: {
      responsive: false,
      animation: false,
      events: [],
      layout: { padding: { top: cfg.hautPad, right: 28, bottom: 0, left: 0 } },
      plugins: { legend: { display: false }, tooltip: { enabled: false } },
      scales: {
        x: {
          type: "linear",
          min: 0,
          max: 12,
          afterBuildTicks: (s) => { s.ticks = ticksTemps.map((v) => ({ value: v })); },
          afterFit: (s) => { s.height = cfg.hauteurX; },
          grid: { display: false, drawTicks: false },
          border: { display: false },
          ticks: { font: { size: 25 }, color: "#000", padding: 5, maxRotation: 0, autoSkip: false,
                   callback: (v) => String(v) },
          title: { display: true, text: "Temps [s]", font: { size: 25 }, color: "#000",
                   padding: { top: 0, bottom: cfg.padTitreX } },
        },
        y: {
          type: "linear",
          min: cfg.min,
          max: cfg.max,
          afterBuildTicks: (s) => { s.ticks = cfg.ticks.map((v) => ({ value: v })); },
          afterFit: (s) => { s.width = 117; },
          grid: { display: false, drawTicks: false },
          border: { display: false },
          ticks: { font: { size: 25 }, color: "#000", padding: 6, autoSkip: false,
                   callback: (v) => String(v) },
          title: { display: true, text: cfg.titreY, font: { size: 25 }, color: "#000",
                   padding: { top: cfg.padTitreY, bottom: 0 } },
        },
      },
    },
    plugins: [cadre, { id: "notes", afterDatasetsDraw: (c) => dessineNotes(c, cfg.notes, cfg.taille) }],
  });
}

/* ================= Courants ================= */

graphe("courants", {
  series: [
    { data: irD, couleur: BLEU },
    { data: irQ, couleur: ROUGE },
    { data: ifQ, couleur: VIOLET },
    { data: ifD, couleur: VERT },
  ],
  min: -10, max: 30, ticks: ticksCourant,
  titreY: "Intensité [A]", padTitreY: 35,
  hautPad: 21, hauteurX: 70, padTitreX: 5,
  notes: notesCourants, taille: 26,
});

/* ================= Puissances actives ================= */

graphe("puissActive", {
  series: [
    { data: pTurb, couleur: NOIR, epaisseur: 3 },
    { data: pRotor, couleur: VIOLET },
    { data: pStator, couleur: ROUGE },
    { data: pReseau, couleur: BLEU },
  ],
  min: -3500, max: 4000, ticks: ticksPuissW,
  titreY: "Puissance [W]", padTitreY: 12,
  hautPad: 21, hauteurX: 65, padTitreX: 0,
  notes: notesActives, taille: 24.5,
});

/* ================= Puissances reactives ================= */

graphe("puissReactive", {
  series: [
    { data: qStator, couleur: ROUGE },
    { data: qReseau, couleur: BLEU },
    { data: qRotor, couleur: VIOLET },
  ],
  min: -2000, max: 3000, ticks: ticksPuissVar,
  titreY: "Puissance [VAR]", padTitreY: 5,
  hautPad: 19, hauteurX: 63, padTitreX: 0,
  notes: notesReactives, taille: 26,
});
</script>
</body>
</html>
